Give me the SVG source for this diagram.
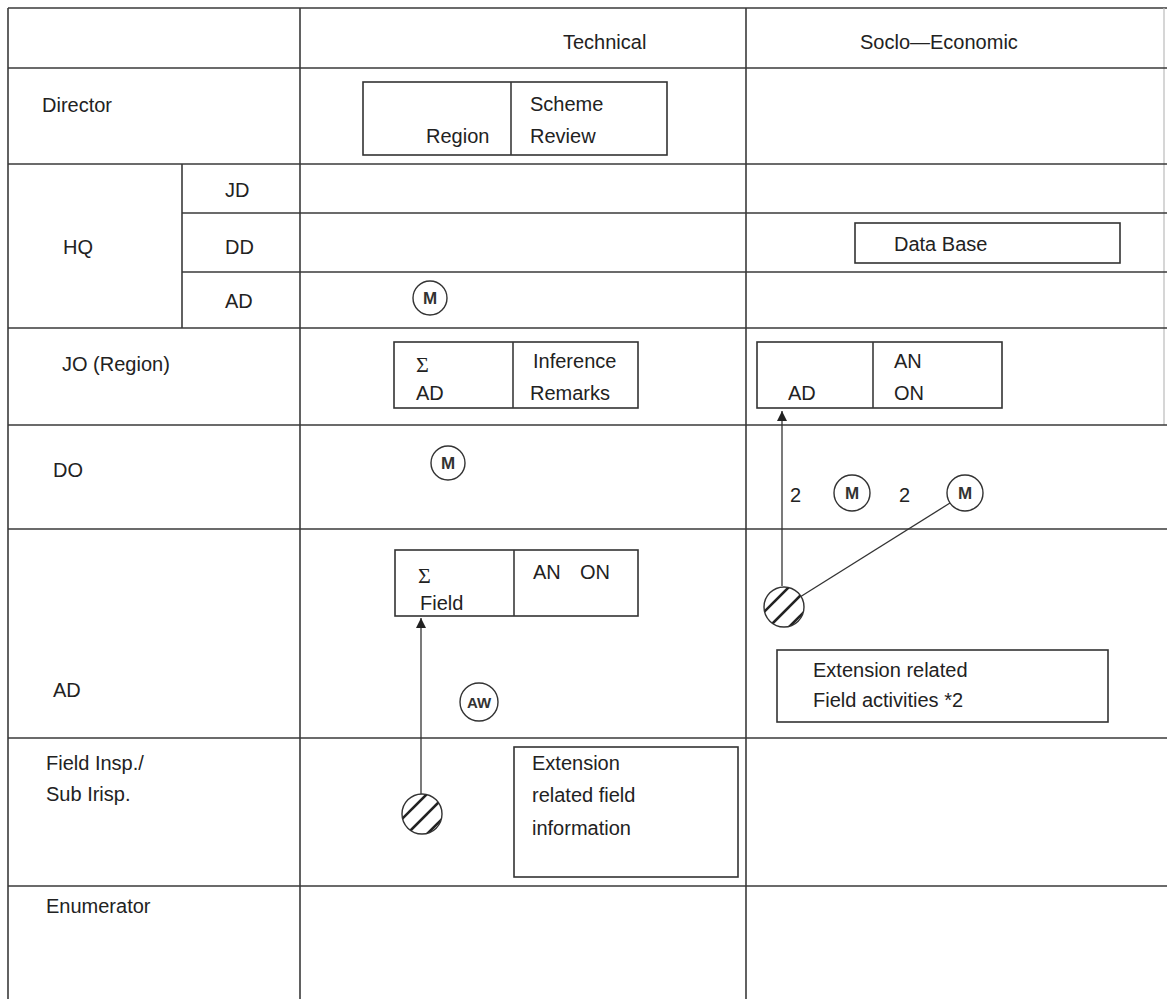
<svg xmlns="http://www.w3.org/2000/svg" width="1167" height="999" viewBox="0 0 1167 999">
<style>
.g{stroke:#3a3a3a;stroke-width:1.6;fill:none}
.gf{stroke:#bbbbbb;stroke-width:1.2;fill:none}
.b{stroke:#333;stroke-width:1.6;fill:#fff}
.t{font-family:"Liberation Sans",Arial,sans-serif;font-size:20px;fill:#222}
.s{font-family:"Liberation Serif","Times New Roman",serif;font-size:22px;fill:#222}
.c{stroke:#333;stroke-width:1.4;fill:#fff}
.cm{font-family:"Liberation Sans",Arial,sans-serif;font-size:17px;font-weight:bold;fill:#333;text-anchor:middle}
.h{stroke:#222;stroke-width:2.6}
.k{stroke:#333;stroke-width:1.3;fill:none}
</style>
<defs>
<marker id="ah" markerWidth="12" markerHeight="10" refX="10" refY="5" orient="auto" markerUnits="userSpaceOnUse">
<path d="M0,0 L10,5 L0,10 Z" fill="#222"/>
</marker>
<clipPath id="hc"><circle cx="0" cy="0" r="20"/></clipPath>
</defs>
<rect width="1167" height="999" fill="#fff"/>

<g id="grid">
<line class="g" x1="8" y1="8" x2="1167" y2="8"/>
<line class="g" x1="8" y1="8" x2="8" y2="999"/>
<line class="g" x1="300" y1="8" x2="300" y2="999"/>
<line class="g" x1="746" y1="8" x2="746" y2="999"/>
<line class="gf" x1="1164" y1="8" x2="1164" y2="425"/>
<line class="g" x1="182" y1="164" x2="182" y2="328"/>
<line class="g" x1="8" y1="68" x2="1167" y2="68"/>
<line class="g" x1="8" y1="164" x2="1167" y2="164"/>
<line class="g" x1="182" y1="213" x2="1167" y2="213"/>
<line class="g" x1="182" y1="272" x2="1167" y2="272"/>
<line class="g" x1="8" y1="328" x2="1167" y2="328"/>
<line class="g" x1="8" y1="425" x2="1167" y2="425"/>
<line class="g" x1="8" y1="529" x2="1167" y2="529"/>
<line class="g" x1="8" y1="738" x2="1167" y2="738"/>
<line class="g" x1="8" y1="886" x2="1167" y2="886"/>
</g>

<g id="labels">
<text class="t" x="563" y="49">Technical</text>
<text class="t" x="860" y="49">Soclo—Economic</text>
<text class="t" x="42" y="112">Director</text>
<text class="t" x="225" y="197">JD</text>
<text class="t" x="63" y="254">HQ</text>
<text class="t" x="225" y="254">DD</text>
<text class="t" x="225" y="308">AD</text>
<text class="t" x="62" y="371">JO (Region)</text>
<text class="t" x="53" y="477">DO</text>
<text class="t" x="53" y="697">AD</text>
<text class="t" x="46" y="770">Field Insp./</text>
<text class="t" x="46" y="801">Sub Irisp.</text>
<text class="t" x="46" y="913">Enumerator</text>
</g>

<g id="box-scheme-review">
<rect class="b" x="363" y="82" width="304" height="73"/>
<line class="g" x1="511" y1="82" x2="511" y2="155"/>
<text class="t" x="426" y="143">Region</text>
<text class="t" x="530" y="111">Scheme</text>
<text class="t" x="530" y="143">Review</text>
</g>

<g id="box-database">
<rect class="b" x="855" y="223" width="265" height="40"/>
<text class="t" x="894" y="251">Data Base</text>
</g>

<g id="m-hq-ad">
<circle class="c" cx="430" cy="298" r="17"/>
<text class="cm" x="430" y="304">M</text>
</g>

<g id="box-inference">
<rect class="b" x="394" y="342" width="244" height="66"/>
<line class="g" x1="513" y1="342" x2="513" y2="408"/>
<text class="s" x="416" y="372">Σ</text>
<text class="t" x="416" y="400">AD</text>
<text class="t" x="533" y="368">Inference</text>
<text class="t" x="530" y="400">Remarks</text>
</g>

<g id="box-jo-socio">
<rect class="b" x="757" y="342" width="245" height="66"/>
<line class="g" x1="873" y1="342" x2="873" y2="408"/>
<text class="t" x="788" y="400">AD</text>
<text class="t" x="894" y="368">AN</text>
<text class="t" x="894" y="400">ON</text>
</g>

<g id="m-do">
<circle class="c" cx="448" cy="463" r="17"/>
<text class="cm" x="448" y="469">M</text>
</g>

<g id="m-do-socio-1">
<text class="t" x="790" y="502">2</text>
<circle class="c" cx="852" cy="493" r="18"/>
<text class="cm" x="852" y="499">M</text>
</g>

<g id="m-do-socio-2">
<text class="t" x="899" y="502">2</text>
<circle class="c" cx="965" cy="493" r="18"/>
<text class="cm" x="965" y="499">M</text>
</g>

<g id="box-field">
<rect class="b" x="395" y="550" width="243" height="66"/>
<line class="g" x1="514" y1="550" x2="514" y2="616"/>
<text class="s" x="418" y="583">Σ</text>
<text class="t" x="420" y="610">Field</text>
<text class="t" x="533" y="579">AN</text>
<text class="t" x="580" y="579">ON</text>
</g>

<g id="aw">
<circle class="c" cx="479" cy="702" r="19"/>
<text class="cm" x="479" y="708" style="font-size:15px">AW</text>
</g>

<g id="box-ext-activities">
<rect class="b" x="777" y="650" width="331" height="72"/>
<text class="t" x="813" y="677">Extension related</text>
<text class="t" x="813" y="707">Field activities *2</text>
</g>

<g id="box-ext-info">
<rect class="b" x="514" y="747" width="224" height="130"/>
<text class="t" x="532" y="770">Extension</text>
<text class="t" x="532" y="802">related field</text>
<text class="t" x="532" y="835">information</text>
</g>

<g id="connectors">
<line class="k" x1="421" y1="794" x2="421" y2="618" marker-end="url(#ah)"/>
<line class="k" x1="782" y1="586" x2="782" y2="411" marker-end="url(#ah)"/>
<line class="k" x1="800" y1="597" x2="950" y2="503"/>
</g>

<g id="hatch-field" transform="translate(422,814)">
<g clip-path="url(#hc)">
<circle r="20" fill="#fff"/>
<line class="h" x1="-40" y1="25" x2="10" y2="-25"/>
<line class="h" x1="-30" y1="35" x2="20" y2="-15"/>
<line class="h" x1="-20" y1="45" x2="30" y2="-5"/>
<line class="h" x1="-50" y1="15" x2="0" y2="-35"/>
</g>
<circle r="20" fill="none" stroke="#333" stroke-width="1.4"/>
</g>

<g id="hatch-ad-socio" transform="translate(784,607)">
<g clip-path="url(#hc)">
<circle r="20" fill="#fff"/>
<line class="h" x1="-40" y1="25" x2="10" y2="-25"/>
<line class="h" x1="-30" y1="35" x2="20" y2="-15"/>
<line class="h" x1="-20" y1="45" x2="30" y2="-5"/>
<line class="h" x1="-50" y1="15" x2="0" y2="-35"/>
</g>
<circle r="20" fill="none" stroke="#333" stroke-width="1.4"/>
</g>
</svg>
